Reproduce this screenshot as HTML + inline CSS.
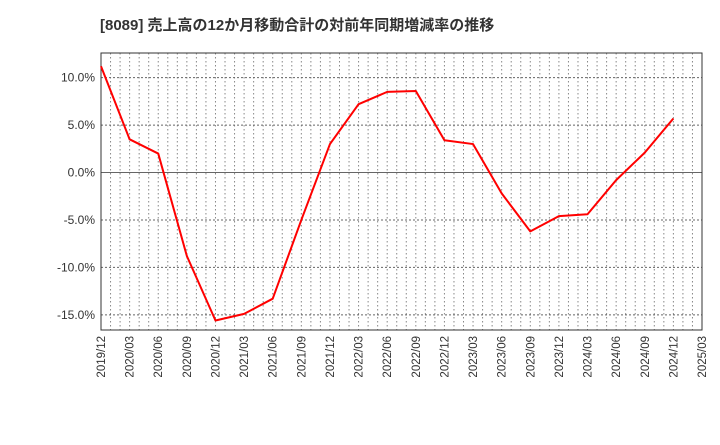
<!DOCTYPE html>
<html><head><meta charset="utf-8"><style>
body{margin:0;background:#fff;font-family:"Liberation Sans","Noto Sans CJK JP",sans-serif;}
</style></head><body>
<svg width="720" height="440" xmlns="http://www.w3.org/2000/svg" id="chart">
<text x="100" y="30" font-size="15" font-weight="bold" fill="#333" font-family="Liberation Sans, Noto Sans CJK JP, sans-serif">[8089]  売上高の12か月移動合計の対前年同期増減率の推移</text>
<g id="grid"></g><g id="axes"></g><g id="series"></g>
</svg>
<script>
const xLabels=["2019/12","2020/03","2020/06","2020/09","2020/12","2021/03","2021/06","2021/09","2021/12","2022/03","2022/06","2022/09","2022/12","2023/03","2023/06","2023/09","2023/12","2024/03","2024/06","2024/09","2024/12","2025/03"];
const values=[11.2,3.5,2.0,-8.8,-15.6,-14.9,-13.3,-5.0,3.0,7.2,8.5,8.6,3.4,3.0,-2.2,-6.2,-4.6,-4.4,-0.8,2.1,5.7];
const yTicks=[10,5,0,-5,-10,-15];
const yTickLabels=["10.0%","5.0%","0.0%","-5.0%","-10.0%","-15.0%"];
const L=101,R=702,T=53,B=330,yMin=-16.6,yMax=12.6;
const ns="http://www.w3.org/2000/svg";
const x=i=>L+(R-L)*i/(xLabels.length-1);
const y=v=>T+(yMax-v)/(yMax-yMin)*(B-T);
function mk(t,a,p){const e=document.createElementNS(ns,t);for(const k in a)e.setAttribute(k,a[k]);p.appendChild(e);return e;}
const g=document.getElementById('grid'),ax=document.getElementById('axes'),s=document.getElementById('series');
const nm=(xLabels.length-1)*3;
for(let m=1;m<nm;m++){const xx=L+(R-L)*m/nm;
const l=mk('line',{x1:xx,x2:xx,y1:T,y2:B,stroke:'#888','stroke-dasharray':'1.5,2.5','stroke-width':1},g);

}
yTicks.forEach((v,i)=>{const yy=y(v);
const l=mk('line',{x1:L,x2:R,y1:yy,y2:yy,stroke:'#666','stroke-dasharray':v===0?'none':'2,2','stroke-width':1},g);


const t=mk('text',{x:L-6,y:yy+4,'text-anchor':'end','font-size':12,fill:'#333'},ax);t.textContent=yTickLabels[i];

});
xLabels.forEach((lb,i)=>{const xx=x(i);
const t=mk('text',{x:0,y:0,transform:`translate(${xx+4},${B+6}) rotate(-90)`,'text-anchor':'end','font-size':11.5,fill:'#333'},ax);t.textContent=lb;

});
const fr=mk('rect',{x:L,y:T,width:R-L,height:B-T,fill:'none',stroke:'#333','stroke-width':1},ax);


const pl=mk('polyline',{points:values.map((v,i)=>x(i)+','+y(v)).join(' '),fill:'none',stroke:'#f00','stroke-width':2,'stroke-linejoin':'round'},s);


</script>
</body></html>
